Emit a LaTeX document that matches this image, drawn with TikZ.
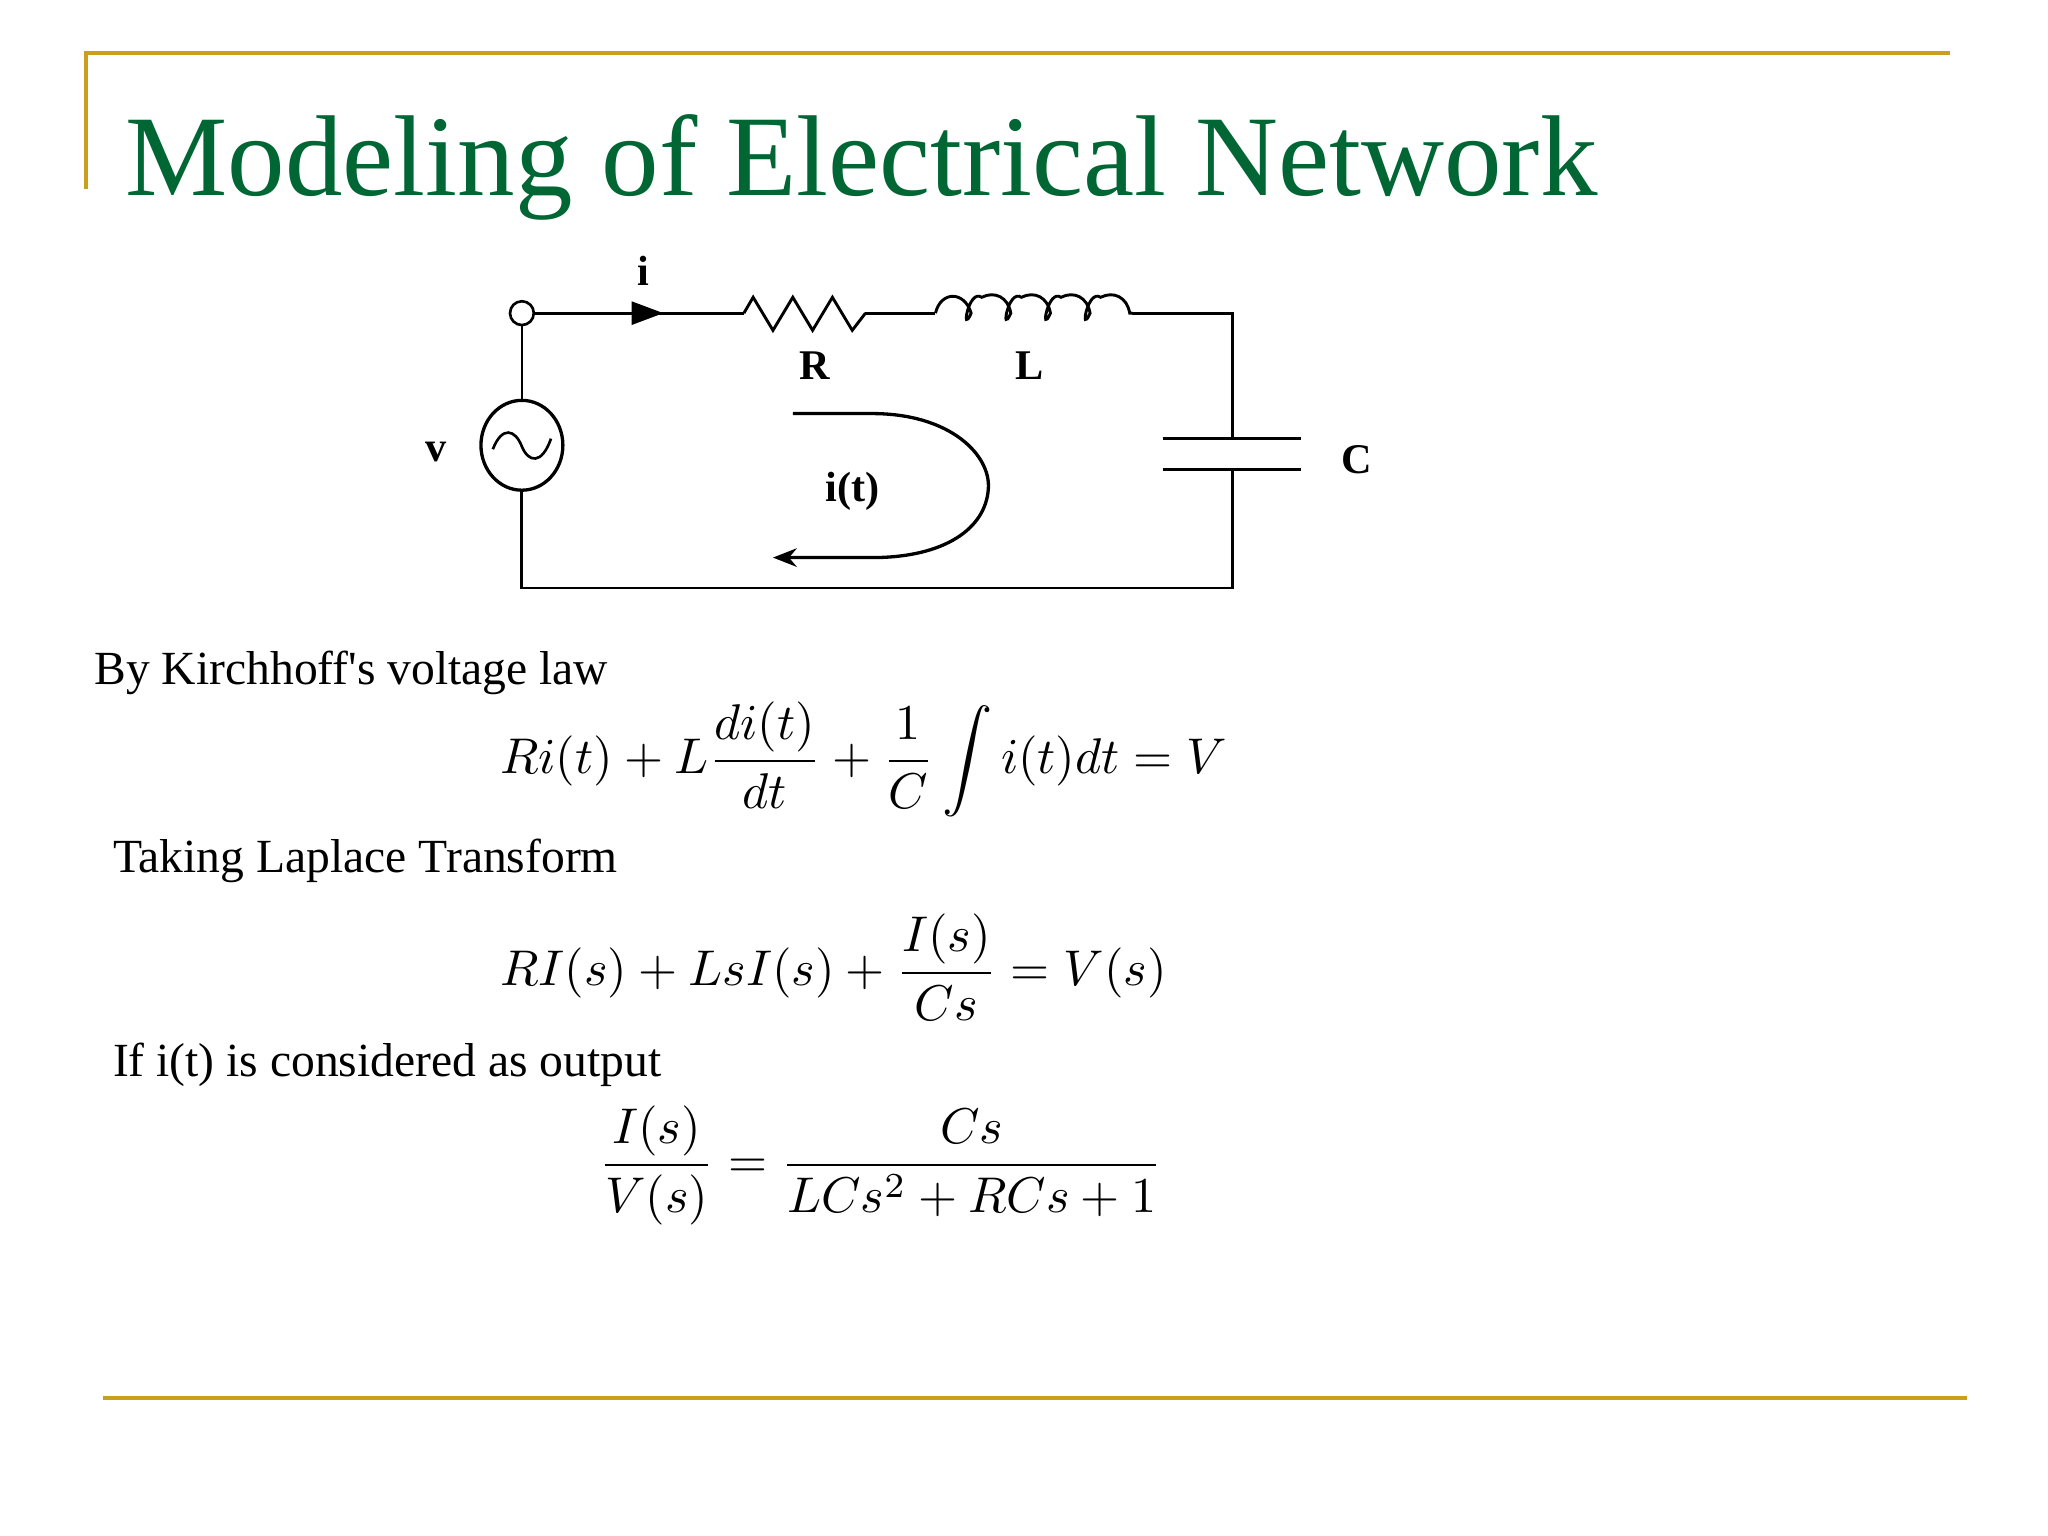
\documentclass[tikz,border=0pt]{standalone}
\usepackage{amsmath}
\usepackage{fontspec}
\setmainfont{Liberation Serif}
\usetikzlibrary{arrows.meta,shapes.geometric}
\definecolor{gold}{RGB}{200,160,30}
\definecolor{tgreen}{RGB}{0,102,51}
\begin{document}
\begin{tikzpicture}[x=1pt,y=-1pt,
  wire/.style={line width=2.2pt},
  lbl/.style={font=\fontsize{32}{36}\selectfont\bfseries},
  body/.style={anchor=base west,font=\fontsize{36}{40}\selectfont},
  eq/.style={scale=3.8,transform shape}]
\useasboundingbox (0,0) rectangle (1550,1162);
\draw[gold,line width=3pt] (65,143) -- (65,40) -- (1476,40);
\draw[gold,line width=3pt] (78,1058) -- (1489,1058);
\node[anchor=base west,text=tgreen,font=\fontsize{87}{96}\selectfont,inner sep=0] (title) at (95,148) {Modeling of Electrical Network};
% circuit
\coordinate (tl) at (395,237);
\coordinate (tr) at (933,237);
\coordinate (bl) at (395,445);
\coordinate (br) at (933,445);
\node[circle,draw,line width=2pt,minimum size=18pt,inner sep=0] (term) at (tl) {};
\node[ellipse,draw,line width=2.5pt,minimum width=62pt,minimum height=68pt,inner sep=0] (src) at (395,337) {};
\draw[line width=2pt] (373,340) .. controls (380,322) and (390,325) .. (395,338) .. controls (400,350) and (410,352) .. (417,332);
\coordinate (r1) at (563,237); \coordinate (r2) at (655,237);
\coordinate (l1) at (708,237); \coordinate (l2) at (857,237);
\draw[wire] (term) -- (r1);
\draw[wire] (r1) -- (570,225) -- (585,250) -- (600,225) -- (615,250) -- (630,225) -- (645,250) -- (r2);
\draw[wire] (r2) -- (l1);
\draw[wire] (l1) .. controls (712,220) and (730,220) .. (735,237)
  \foreach \k in {0,1,2,3} { .. controls ({735+\k*30-8},255) and ({735+\k*30-2},218) .. ({735+\k*30+8},225) .. controls ({735+\k*30+18},220) and ({735+\k*30+28},225) .. ({735+\k*30+30},237)}
  -- (l2);
\draw[wire] (l2) -- (tr) -- (933,332);
\draw[wire] (880,332) -- (985,332);
\draw[wire] (880,355) -- (985,355);
\draw[wire] (933,355) -- (br) -- (bl) -- (src.south);
\draw[line width=1.5pt] (term) -- (src.north);
\fill (478,228) -- (502,237) -- (478,246) -- cycle;
\node[lbl] (li) at (487,205) {i};
\node[lbl] (lR) at (617,277) {R};
\node[lbl] (lL) at (779,277) {L};
\node[lbl] (lv) at (330,342) {v};
\node[lbl] (lC) at (1027,348) {C};
\node[lbl] (lit) at (645,372) {i(t)};
\draw[line width=2.5pt,-{Stealth[length=18pt,width=14pt]}] (600,313) -- (660,313) .. controls (720,313) and (750,345) .. (748,370) .. controls (746,400) and (715,422) .. (660,422) -- (585,422);
% text
\node[body] (t1) at (68,518) {By Kirchhoff\textquotesingle s voltage law};
\node[body] (t2) at (82,660) {Taking Laplace Transform};
\node[body] (t3) at (82,815) {If i(t) is considered as output};
\node[eq,anchor=west] (e1) at (365,575) {$\displaystyle Ri(t)+L\frac{di(t)}{dt}+\frac{1}{C}\int i(t)dt=V$};
\node[eq,anchor=west] (e2) at (365,732) {$\displaystyle RI(s)+LsI(s)+\frac{I(s)}{Cs}=V(s)$};
\node[eq,anchor=west] (e3) at (440,882) {$\displaystyle\frac{I(s)}{V(s)}=\frac{Cs}{LCs^2+RCs+1}$};
\end{tikzpicture}
\end{document}
